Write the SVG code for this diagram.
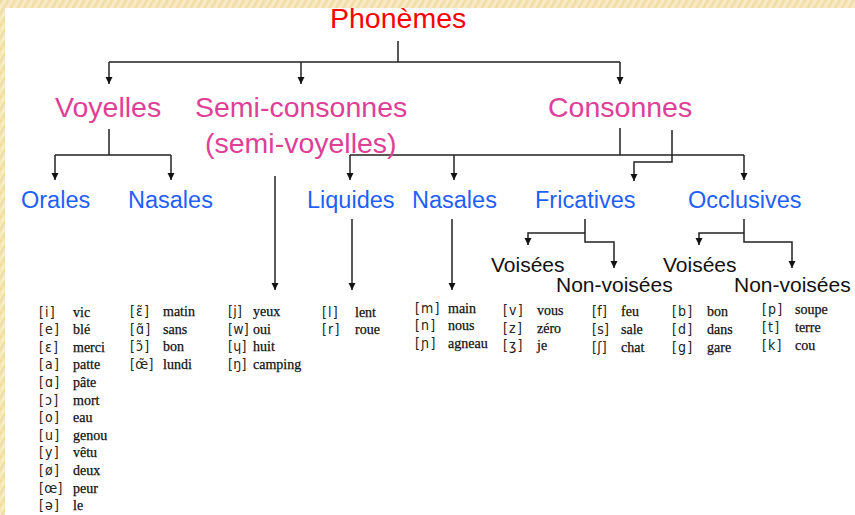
<svg xmlns="http://www.w3.org/2000/svg" width="855" height="515" viewBox="0 0 855 515">
<style>
.top{font-family:"Liberation Sans",Arial,sans-serif;font-size:28.5px;fill:#ff0000}
.mag{font-family:"Liberation Sans",Arial,sans-serif;font-size:28.5px;fill:#df3f97}
.blue{font-family:"Liberation Sans",Arial,sans-serif;font-size:23.5px;fill:#1f5fff}
.blk{font-family:"Liberation Sans",Arial,sans-serif;font-size:21px;fill:#111}
.ipa{font-family:"DejaVu Sans Condensed","DejaVu Sans",sans-serif;font-size:14px;fill:#222;letter-spacing:1.2px}
.tight{letter-spacing:0.3px}
.w{font-family:"Liberation Serif","Times New Roman",serif;font-size:14px;fill:#111;stroke:#111;stroke-width:0.25}
.ln{fill:none;stroke:#222;stroke-width:1.5}
.ar{fill:none;stroke:#222;stroke-width:1.5;marker-end:url(#ah)}
</style>
<defs>
<marker id="ah" markerUnits="userSpaceOnUse" markerWidth="8" markerHeight="8" refX="7" refY="3.5" orient="auto">
<path d="M0,0 L7,3.5 L0,7 z" fill="#111"/>
</marker>
<pattern id="stripe" patternUnits="userSpaceOnUse" width="6" height="6" patternTransform="rotate(30)">
<rect width="6" height="6" fill="#f8eac4"/>
<rect width="2.5" height="6" fill="#f1dca6"/>
</pattern>
</defs>
<rect width="855" height="515" fill="#ffffff"/>
<rect x="0" y="0" width="855" height="8" fill="url(#stripe)"/>
<rect x="0" y="0" width="5" height="515" fill="url(#stripe)"/>

<g id="connectors">
<path class="ln" d="M398,41 V62 M109,62 H620"/>
<path class="ar" d="M109,62 V84"/>
<path class="ar" d="M301,62 V84"/>
<path class="ar" d="M620,62 V84"/>
<path class="ln" d="M109,129 V155 M55,155 H171"/>
<path class="ar" d="M55,155 V180"/>
<path class="ar" d="M171,155 V180"/>
<path class="ar" d="M275,176 V290"/>
<path class="ln" d="M620,128 V155 M350,155 H744"/>
<path class="ar" d="M350,155 V180"/>
<path class="ar" d="M454,155 V180"/>
<path class="ar" d="M744,155 V180"/>
<path class="ar" d="M672,130 V162 H634 V181"/>
<path class="ar" d="M352,219 V290"/>
<path class="ar" d="M452,219 V290"/>
<path class="ar" d="M585,219 V242 H614 V268"/>
<path class="ar" d="M585,233 H528 V245"/>
<path class="ar" d="M744,219 V242 H792 V268"/>
<path class="ar" d="M744,233 H699 V245"/>
</g>

<g id="phonemes"><text class="top" x="330" y="28">Phonèmes</text></g>
<g id="voyelles"><text class="mag" x="55" y="117">Voyelles</text></g>
<g id="semi-consonnes"><text class="mag" x="195" y="117">Semi-consonnes</text><text class="mag" x="205" y="153">(semi-voyelles)</text></g>
<g id="consonnes"><text class="mag" x="548" y="117">Consonnes</text></g>
<g id="orales"><text class="blue" x="21" y="208">Orales</text></g>
<g id="nasales-v"><text class="blue" x="128" y="208">Nasales</text></g>
<g id="liquides"><text class="blue" x="307" y="208">Liquides</text></g>
<g id="nasales-c"><text class="blue" x="412" y="208">Nasales</text></g>
<g id="fricatives"><text class="blue" x="535" y="208">Fricatives</text></g>
<g id="occlusives"><text class="blue" x="688" y="208">Occlusives</text></g>
<g id="fric-voisees"><text class="blk" x="491" y="272">Voisées</text></g>
<g id="fric-nonvoisees"><text class="blk" x="556" y="292">Non-voisées</text></g>
<g id="occ-voisees"><text class="blk" x="663" y="272">Voisées</text></g>
<g id="occ-nonvoisees"><text class="blk" x="734" y="292">Non-voisées</text></g>

<g id="table-orales">
<text class="ipa" x="39" y="316.5">[i]</text><text class="w" x="73" y="316.5">vic</text>
<text class="ipa" x="39" y="334.1">[e]</text><text class="w" x="73" y="334.1">blé</text>
<text class="ipa" x="39" y="351.7">[ɛ]</text><text class="w" x="73" y="351.7">merci</text>
<text class="ipa" x="39" y="369.3">[a]</text><text class="w" x="73" y="369.3">patte</text>
<text class="ipa" x="39" y="386.9">[ɑ]</text><text class="w" x="73" y="386.9">pâte</text>
<text class="ipa" x="39" y="404.5">[ɔ]</text><text class="w" x="73" y="404.5">mort</text>
<text class="ipa" x="39" y="422.1">[o]</text><text class="w" x="73" y="422.1">eau</text>
<text class="ipa" x="39" y="439.7">[u]</text><text class="w" x="73" y="439.7">genou</text>
<text class="ipa" x="39" y="457.3">[y]</text><text class="w" x="73" y="457.3">vêtu</text>
<text class="ipa" x="39" y="474.9">[ø]</text><text class="w" x="73" y="474.9">deux</text>
<text class="ipa tight" x="39" y="492.5">[œ]</text><text class="w" x="73" y="492.5">peur</text>
<text class="ipa" x="39" y="510.1">[ə]</text><text class="w" x="73" y="510.1">le</text>
</g>
<g id="table-nasales-v">
<text class="ipa" x="130" y="316">[ɛ̃]</text><text class="w" x="163" y="316">matin</text>
<text class="ipa" x="130" y="333.5">[ɑ̃]</text><text class="w" x="163" y="333.5">sans</text>
<text class="ipa" x="130" y="351">[ɔ̃]</text><text class="w" x="163" y="351">bon</text>
<text class="ipa tight" x="130" y="368.5">[œ̃]</text><text class="w" x="163" y="368.5">lundi</text>
</g>
<g id="table-semi">
<text class="ipa tight" x="228" y="316">[j]</text><text class="w" x="253" y="316">yeux</text>
<text class="ipa tight" x="228" y="333.5">[w]</text><text class="w" x="253" y="333.5">oui</text>
<text class="ipa tight" x="228" y="351">[ɥ]</text><text class="w" x="253" y="351">huit</text>
<text class="ipa tight" x="228" y="368.5">[ŋ]</text><text class="w" x="253" y="368.5">camping</text>
</g>
<g id="table-liquides">
<text class="ipa" x="322" y="317">[l]</text><text class="w" x="355" y="317">lent</text>
<text class="ipa" x="322" y="334">[r]</text><text class="w" x="355" y="334">roue</text>
</g>
<g id="table-nasales-c">
<text class="ipa" x="415" y="312.5">[m]</text><text class="w" x="448" y="312.5">main</text>
<text class="ipa" x="415" y="330">[n]</text><text class="w" x="448" y="330">nous</text>
<text class="ipa" x="415" y="347.5">[ɲ]</text><text class="w" x="448" y="347.5">agneau</text>
</g>
<g id="table-fric-v">
<text class="ipa" x="503" y="315">[v]</text><text class="w" x="537" y="315">vous</text>
<text class="ipa" x="503" y="332.5">[z]</text><text class="w" x="537" y="332.5">zéro</text>
<text class="ipa" x="503" y="350">[ʒ]</text><text class="w" x="537" y="350">je</text>
</g>
<g id="table-fric-nv">
<text class="ipa tight" x="592" y="316">[f]</text><text class="w" x="621" y="316">feu</text>
<text class="ipa tight" x="592" y="334">[s]</text><text class="w" x="621" y="334">sale</text>
<text class="ipa tight" x="592" y="351.5">[ʃ]</text><text class="w" x="621" y="351.5">chat</text>
</g>
<g id="table-occ-v">
<text class="ipa" x="672" y="316">[b]</text><text class="w" x="707" y="316">bon</text>
<text class="ipa" x="672" y="334">[d]</text><text class="w" x="707" y="334">dans</text>
<text class="ipa" x="672" y="351.5">[g]</text><text class="w" x="707" y="351.5">gare</text>
</g>
<g id="table-occ-nv">
<text class="ipa" x="762" y="314">[p]</text><text class="w" x="795" y="314">soupe</text>
<text class="ipa" x="762" y="331.5">[t]</text><text class="w" x="795" y="331.5">terre</text>
<text class="ipa" x="762" y="349.5">[k]</text><text class="w" x="795" y="349.5">cou</text>
</g>
</svg>
